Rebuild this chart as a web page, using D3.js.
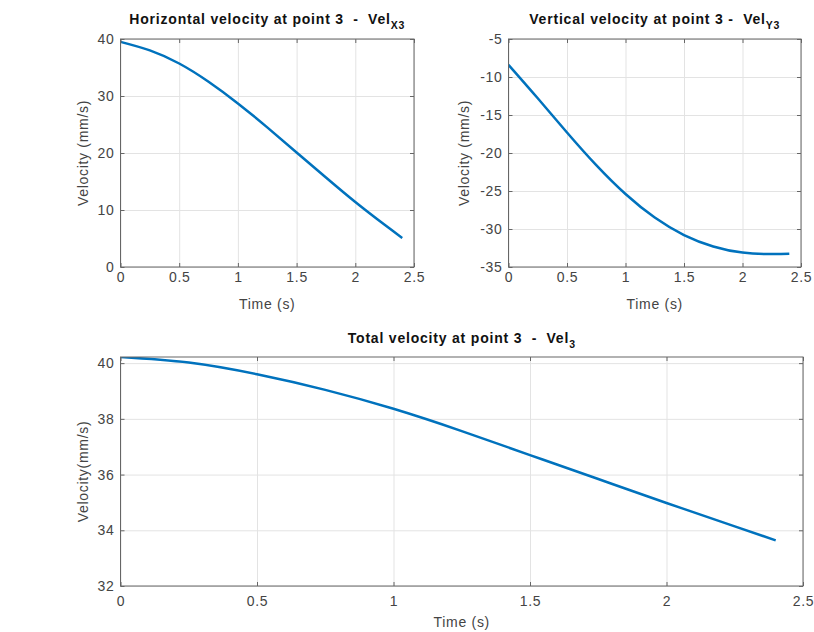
<!DOCTYPE html>
<html>
<head>
<meta charset="utf-8">
<script src="https://cdn.jsdelivr.net/npm/d3@7"></script>
<style>
  body { margin: 0; background: #fff; }
  svg { display: block; font-family: "Liberation Sans", Arial, Helvetica, sans-serif; }
  .tick text { fill: #444; font-size: 14px; letter-spacing: 0.7px; }
  .axis path.domain { display: none; }
  .axis line { stroke: #666; }
  .grid line { stroke: #e3e3e3; }
  .grid path.domain { display: none; }
  .lbl { fill: #444; font-size: 14px; letter-spacing: 0.7px; }
  .ttl { fill: #111; font-size: 14px; font-weight: bold; letter-spacing: 0.8px; white-space: pre; }
</style>
</head>
<body>
<script>
// time samples (s) and velocities (mm/s)
var time      = [0, 0.25, 0.5, 0.75, 1, 1.25, 1.5, 1.75, 2, 2.25, 2.4];
var velX      = [39.5, 38.0, 35.7, 32.5, 28.7, 24.5, 20.1, 15.7, 11.4, 7.4, 5.1];
var velY      = [-8.4, -12.8, -17.3, -21.6, -25.4, -28.5, -30.8, -32.3, -33.1, -33.3, -33.25];
var velTotal  = [40.22, 40.02, 39.6, 39.04, 38.36, 37.56, 36.7, 35.84, 34.98, 34.14, 33.64];

var xTicks     = [0, 0.5, 1, 1.5, 2, 2.5];
var yTicksX    = [0, 10, 20, 30, 40];
var yTicksY    = [-35, -30, -25, -20, -15, -10, -5];
var yTicksTot  = [32, 34, 36, 38, 40];

var svg = d3.select("body").append("svg")
    .attr("width", 814)
    .attr("height", 632);

var panels = [
  { left: 120.5, right: 414, top: 39, bottom: 267, ydom: [0, 40], yticks: yTicksX, values: velX,
    title: "Horizontal velocity at point 3  -  Vel", sub: "X3", titleY: 24,
    ylabel: "Velocity (mm/s)", ylabelX: 88, xtickY: 282, xlabelY: 309 },
  { left: 508.5, right: 801, top: 39, bottom: 267, ydom: [-35, -5], yticks: yTicksY, values: velY,
    title: "Vertical velocity at point 3 -  Vel", sub: "Y3", titleY: 24,
    ylabel: "Velocity (mm/s)", ylabelX: 469, xtickY: 282, xlabelY: 309 },
  { left: 120.5, right: 803, top: 357, bottom: 586, ydom: [32, 40.22], yticks: yTicksTot, values: velTotal,
    title: "Total velocity at point 3  -  Vel", sub: "3", titleY: 343,
    ylabel: "Velocity(mm/s)", ylabelX: 88, xtickY: 606, xlabelY: 627 }
];

panels.forEach(function(p, i) {
  var w = p.right - p.left, h = p.bottom - p.top;
  var g = svg.append("g").attr("transform", "translate(" + p.left + "," + p.top + ")");

  var x = d3.scaleLinear().domain([0, 2.5]).range([0, w]);
  var y = d3.scaleLinear().domain(p.ydom).range([h, 0]);

  // grid
  g.append("g").attr("class", "grid")
      .attr("transform", "translate(0," + h + ")")
      .call(d3.axisBottom(x).tickValues(xTicks).tickSize(-h).tickFormat(""));
  g.append("g").attr("class", "grid")
      .call(d3.axisLeft(y).tickValues(p.yticks).tickSize(-w).tickFormat(""));

  // clip + line
  g.append("clipPath").attr("id", "clip" + i)
    .append("rect").attr("width", w).attr("height", h);

  var line = d3.line()
      .x(function(d, j) { return x(time[j]); })
      .y(function(d) { return y(d); })
      .curve(d3.curveNatural);

  g.append("path")
      .datum(p.values)
      .attr("clip-path", "url(#clip" + i + ")")
      .attr("fill", "none")
      .attr("stroke", "#0072BD")
      .attr("stroke-width", 2.5)
      .attr("stroke-linejoin", "round")
      .attr("d", line);

  // box
  g.append("rect")
      .attr("width", w).attr("height", h)
      .attr("fill", "none")
      .attr("stroke", "#666")
      .attr("stroke-width", 1);

  // axes with inward ticks on all sides
  var xa = g.append("g").attr("class", "axis")
      .attr("transform", "translate(0," + h + ")")
      .call(d3.axisBottom(x).tickValues(xTicks).tickSize(-4).tickPadding(0)
        .tickFormat(function(d) { return String(d); }));
  xa.selectAll(".tick text").attr("dy", null).attr("y", p.xtickY - p.bottom);

  g.append("g").attr("class", "axis")
      .call(d3.axisTop(x).tickValues(xTicks).tickSize(-4).tickFormat(""));

  g.append("g").attr("class", "axis")
      .call(d3.axisLeft(y).tickValues(p.yticks).tickSize(-4).tickPadding(6)
        .tickFormat(function(d) { return String(d); }));

  g.append("g").attr("class", "axis")
      .attr("transform", "translate(" + w + ",0)")
      .call(d3.axisRight(y).tickValues(p.yticks).tickSize(-4).tickFormat(""));

  // labels
  svg.append("text").attr("class", "lbl")
      .attr("text-anchor", "middle")
      .attr("x", p.left + w / 2)
      .attr("y", p.xlabelY)
      .text("Time (s)");

  svg.append("text").attr("class", "lbl")
      .attr("text-anchor", "middle")
      .attr("transform", "translate(" + p.ylabelX + "," + (p.top + h / 2) + ") rotate(-90)")
      .text(p.ylabel);

  var t = svg.append("text").attr("class", "ttl")
      .attr("text-anchor", "middle")
      .attr("x", p.left + w / 2)
      .attr("y", p.titleY);
  t.append("tspan").text(p.title);
  t.append("tspan").attr("dy", 5).style("font-size", "10.5px").text(p.sub);
});
</script>
</body>
</html>
